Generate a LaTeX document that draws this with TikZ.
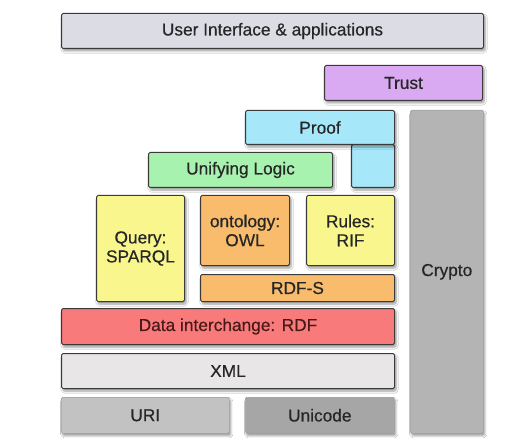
\documentclass[tikz,border=0pt]{standalone}
\usepackage{fontspec}
\setmainfont{Liberation Sans}
\usetikzlibrary{shadows.blur}
\definecolor{cUI}{HTML}{DCDCE4}
\definecolor{cTrust}{HTML}{D9A9F2}
\definecolor{cProof}{HTML}{A6E8F9}
\definecolor{cLogic}{HTML}{A8F2B0}
\definecolor{cYel}{HTML}{F8F68C}
\definecolor{cOra}{HTML}{F8BC6C}
\definecolor{cData}{HTML}{F87A7A}
\definecolor{cXML}{HTML}{E8E6E6}
\definecolor{cURI}{HTML}{C2C2C2}
\definecolor{cUni}{HTML}{A6A6A6}
\definecolor{cCrypto}{HTML}{B4B4B4}
\definecolor{cTxt}{HTML}{262626}
\definecolor{cRdfTxt}{HTML}{4A1A1A}
\definecolor{cEdge}{HTML}{3A3A3A}
\definecolor{cLight}{HTML}{A0A0A0}
\tikzset{
  layer/.style={draw=cEdge, line width=1pt, rounded corners=1.5pt, anchor=north west,
    inner sep=0pt, align=center, text=cTxt,
    font=\fontsize{17.3}{19}\selectfont\addfontfeatures{FakeBold=0.5},
    blur shadow={shadow xshift=1.5pt, shadow yshift=-2.5pt, shadow opacity=40, shadow blur steps=6}},
  softlayer/.style={layer, draw=cLight, line width=0.6pt},
}
\begin{document}
\begin{tikzpicture}[x=1pt,y=-1pt]
\useasboundingbox[fill=white] (0,0) rectangle (513,446);
\node[layer, fill=cUI, minimum width=422pt, minimum height=35pt] (ui) at (61,13) {User Interface \& applications};
\node[layer, fill=cTrust, minimum width=158pt, minimum height=35pt] (trust) at (324,65) {Trust};
\node[softlayer, fill=cCrypto, minimum width=73pt, minimum height=323pt] (crypto) at (410,110) {Crypto};
\node[layer, fill=cProof, minimum width=43pt, minimum height=43pt] (proofext) at (351,144) {};
\node[layer, fill=cProof, minimum width=149pt, minimum height=34pt] (proof) at (245,110) {Proof};
\node[layer, fill=cLogic, minimum width=184pt, minimum height=35pt] (logic) at (148,152) {Unifying Logic};
\node[layer, fill=cYel, minimum width=88pt, minimum height=106pt] (query) at (96,195) {Query:\\SPARQL};
\node[layer, fill=cOra, minimum width=89pt, minimum height=70pt] (owl) at (200,195) {ontology:\\OWL};
\node[layer, fill=cYel, minimum width=88pt, minimum height=70pt] (rif) at (306,195) {Rules:\\RIF};
\node[layer, fill=cOra, minimum width=194pt, minimum height=27pt] (rdfs) at (200,274) {RDF-S};
\node[layer, fill=cData, minimum width=333pt, minimum height=36pt, text=cRdfTxt] (rdf) at (61,308) {Data interchange: RDF};
\node[layer, fill=cXML, minimum width=333pt, minimum height=35pt] (xml) at (61,353) {XML};
\node[softlayer, fill=cURI, minimum width=168pt, minimum height=36pt] (uri) at (61,397) {URI};
\node[softlayer, fill=cUni, minimum width=149pt, minimum height=36pt] (unicode) at (245,397) {Unicode};
\end{tikzpicture}
\end{document}
